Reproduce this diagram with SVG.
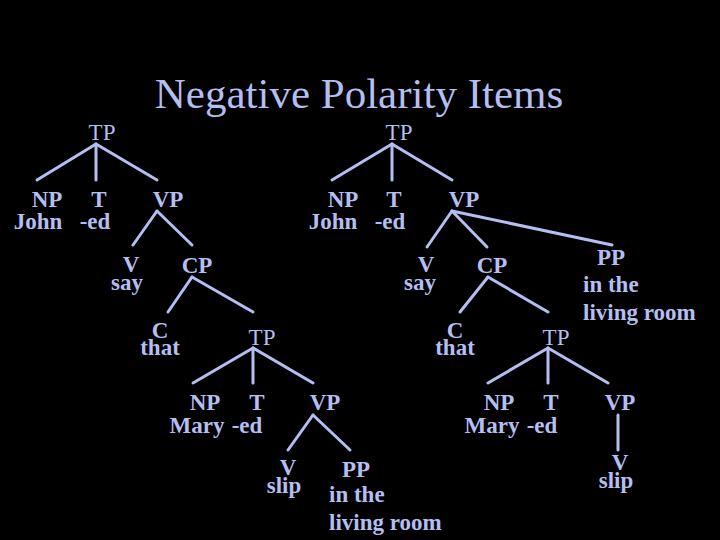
<svg xmlns="http://www.w3.org/2000/svg" width="720" height="540" viewBox="0 0 720 540">
<style>
text{fill:#b4bef0;font-family:"Liberation Serif","Times New Roman",serif;font-size:23px;text-anchor:middle}
.b{font-weight:bold}
.l{text-anchor:start}
.title{font-size:43px}
#edges line{stroke:#b4bef0;stroke-width:3;stroke-linecap:round}
</style>
<rect width="720" height="540" fill="#000"/>
<text class="title" x="359" y="108">Negative Polarity Items</text>
<g id="edges">
<line x1="96" y1="144" x2="37" y2="180"/>
<line x1="96" y1="144" x2="96" y2="180"/>
<line x1="96" y1="144" x2="157" y2="180"/>
<line x1="157" y1="211" x2="133" y2="245"/>
<line x1="157" y1="211" x2="192" y2="245"/>
<line x1="192" y1="277" x2="168" y2="312"/>
<line x1="192" y1="277" x2="253" y2="312"/>
<line x1="253" y1="348" x2="193" y2="383"/>
<line x1="253" y1="348" x2="253" y2="383"/>
<line x1="253" y1="348" x2="313" y2="383"/>
<line x1="313" y1="415" x2="288" y2="450"/>
<line x1="313" y1="415" x2="350" y2="450"/>
<line x1="392" y1="144" x2="332" y2="180"/>
<line x1="392" y1="144" x2="392" y2="180"/>
<line x1="392" y1="144" x2="452" y2="180"/>
<line x1="452" y1="211" x2="427" y2="247"/>
<line x1="452" y1="211" x2="487" y2="247"/>
<line x1="452" y1="211" x2="612" y2="245"/>
<line x1="488" y1="277" x2="460" y2="312"/>
<line x1="488" y1="277" x2="548" y2="312"/>
<line x1="548" y1="348" x2="488" y2="383"/>
<line x1="548" y1="348" x2="548" y2="383"/>
<line x1="548" y1="348" x2="608" y2="383"/>
<line x1="618" y1="415" x2="618" y2="450"/>
</g>
<g id="tp1"><text x="102" y="140">TP</text></g>
<g id="np1"><text class="b" x="47" y="207">NP</text><text class="b" x="38" y="229">John</text></g>
<g id="t1"><text class="b" x="99" y="207">T</text><text class="b" x="95" y="229">-ed</text></g>
<g id="vp1"><text class="b" x="168" y="207">VP</text></g>
<g id="v1"><text class="b" x="131" y="272">V</text><text class="b" x="127" y="290">say</text></g>
<g id="cp1"><text class="b" x="197" y="273">CP</text></g>
<g id="c1"><text class="b" x="160" y="338">C</text><text class="b" x="160" y="355">that</text></g>
<g id="tp2"><text x="262" y="345">TP</text></g>
<g id="np2"><text class="b" x="205" y="410">NP</text><text class="b" x="197" y="433">Mary</text></g>
<g id="t2"><text class="b" x="257" y="410">T</text><text class="b" x="247" y="433">-ed</text></g>
<g id="vp2"><text class="b" x="325" y="410">VP</text></g>
<g id="v2"><text class="b" x="288" y="475">V</text><text class="b" x="284" y="493">slip</text></g>
<g id="pp1"><text class="b" x="356" y="477">PP</text><text class="b l" x="329" y="502">in the</text><text class="b l" x="329" y="530">living room</text></g>
<g id="tp3"><text x="399" y="140">TP</text></g>
<g id="np3"><text class="b" x="343" y="207">NP</text><text class="b" x="333" y="229">John</text></g>
<g id="t3"><text class="b" x="394" y="207">T</text><text class="b" x="390" y="229">-ed</text></g>
<g id="vp3"><text class="b" x="464" y="207">VP</text></g>
<g id="v3"><text class="b" x="426" y="272">V</text><text class="b" x="420" y="290">say</text></g>
<g id="cp3"><text class="b" x="492" y="273">CP</text></g>
<g id="c3"><text class="b" x="455" y="338">C</text><text class="b" x="455" y="355">that</text></g>
<g id="tp4"><text x="556" y="345">TP</text></g>
<g id="np4"><text class="b" x="499" y="410">NP</text><text class="b" x="492" y="433">Mary</text></g>
<g id="t4"><text class="b" x="551" y="410">T</text><text class="b" x="542" y="433">-ed</text></g>
<g id="vp4"><text class="b" x="620" y="410">VP</text></g>
<g id="v4"><text class="b" x="620" y="470">V</text><text class="b" x="616" y="488">slip</text></g>
<g id="pp2"><text class="b" x="611" y="265">PP</text><text class="b l" x="583" y="292">in the</text><text class="b l" x="583" y="320">living room</text></g>
</svg>
